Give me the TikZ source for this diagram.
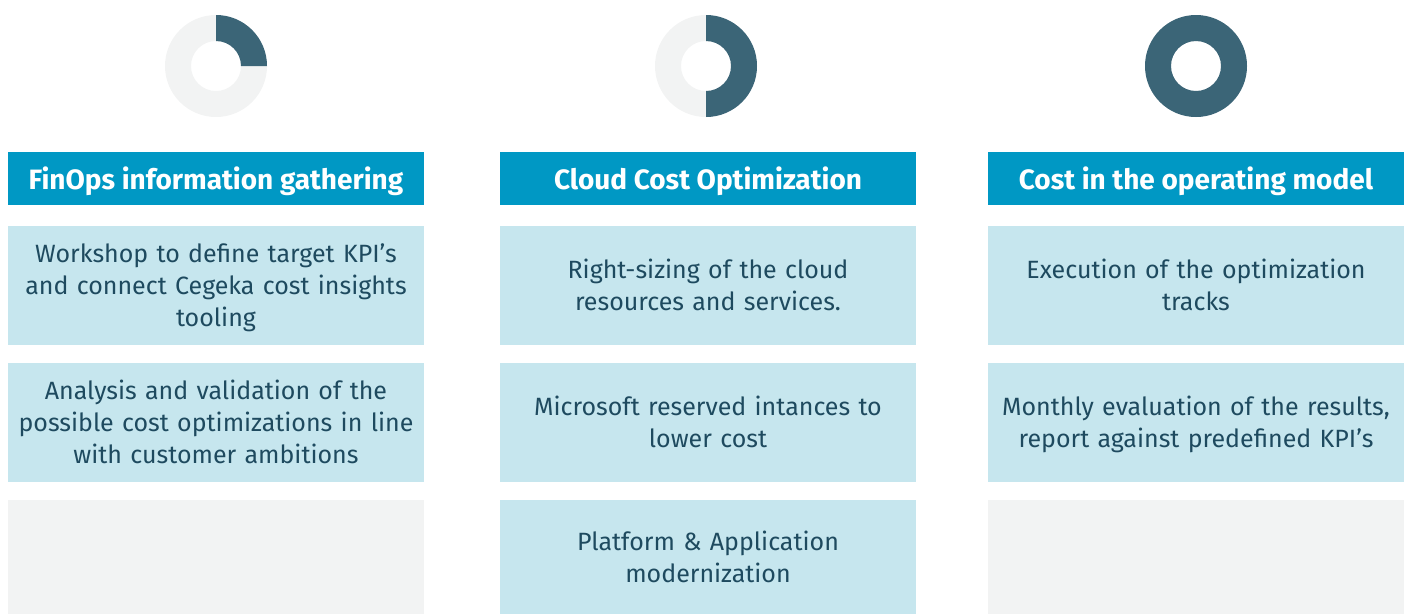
\documentclass[tikz,border=0pt]{standalone}
\usepackage{fontspec}
\usetikzlibrary{calc}
\setmainfont{Fira Sans}
\definecolor{darkteal}{HTML}{3B6577}
\definecolor{ringgrey}{HTML}{F2F3F3}
\definecolor{headblue}{HTML}{0098C4}
\definecolor{boxblue}{HTML}{C6E6EE}
\definecolor{txtteal}{HTML}{1E4A5F}
\newcommand\mytopstrut{\rule{0pt}{26pt}}
\newcommand\mybotstrut{\rule[-7.2pt]{0pt}{7.2pt}}
\tikzset{
  x=1pt, y=1pt,
  headbox/.style={fill=headblue, text=white, minimum width=416pt, minimum height=52.7pt,
    inner sep=0pt, text height=23pt, text depth=0pt,
    font=\fontsize{28}{32}\selectfont\bfseries, align=center},
  itembox/.style={fill=boxblue, text=txtteal, minimum width=416pt, minimum height=119pt,
    inner sep=0pt, text width=408pt, font=\fontsize{25}{32}\selectfont, align=center,
    execute at begin node=\mytopstrut, execute at end node=\mybotstrut},
  emptybox/.style={fill=ringgrey, minimum width=416pt, minimum height=114pt, inner sep=0pt},
}
\begin{document}
\begin{tikzpicture}
\useasboundingbox (0,0) rectangle (1408,-614);
% donuts
\foreach \cx/\name in {216/da,706/db,1196/dc}{
  \coordinate (\name) at (\cx,-66);
  \fill[ringgrey, even odd rule] (\name) circle[radius=51] (\name) circle[radius=25];
}
% quarter
\fill[darkteal] ($(da)+(90:51)$) arc[start angle=90,end angle=0,radius=51]
  -- ($(da)+(0:25)$) arc[start angle=0,end angle=90,radius=25] -- cycle;
% half
\fill[darkteal] ($(db)+(90:51)$) arc[start angle=90,end angle=-90,radius=51]
  -- ($(db)+(-90:25)$) arc[start angle=-90,end angle=90,radius=25] -- cycle;
% full
\fill[darkteal, even odd rule] (dc) circle[radius=51] (dc) circle[radius=25];

% column 1
\node[headbox] (h1) at (216,-178.4) {FinOps information gathering};
\node[itembox, minimum height=118.7pt] (a1) at (216,-285.3) {Workshop to define target KPI’s\\and connect Cegeka cost insights\\tooling};
\node[itembox] (a2) at (216,-422.2) {Analysis and validation of the\\possible cost optimizations in line\\with customer ambitions};
\node[emptybox] (a3) at (216,-557) {};

% column 2
\node[headbox] (h2) at (708,-178.4) {Cloud Cost Optimization};
\node[itembox, minimum height=118.7pt] (b1) at (708,-285.3) {Right-sizing of the cloud\\resources and services.};
\node[itembox] (b2) at (708,-422.2) {Microsoft reserved intances to\\lower cost};
\node[itembox, minimum height=114pt] (b3) at (708,-557) {Platform \& Application\\modernization};

% column 3
\node[headbox] (h3) at (1196,-178.4) {Cost in the operating model};
\node[itembox, minimum height=118.7pt] (c1) at (1196,-285.3) {Execution of the optimization\\tracks};
\node[itembox] (c2) at (1196,-422.2) {Monthly evaluation of the results,\\report against predefined KPI’s};
\node[emptybox] (c3) at (1196,-557) {};
\end{tikzpicture}
\end{document}
